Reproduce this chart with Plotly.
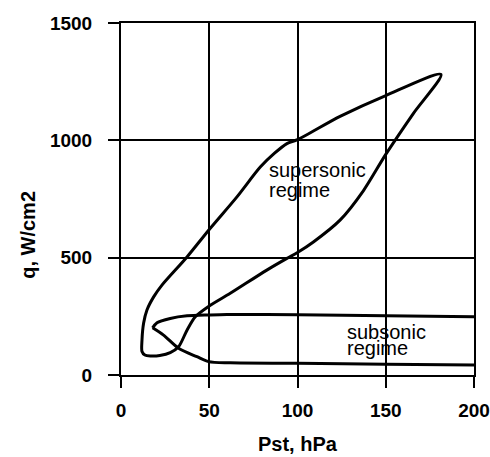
import plotly.graph_objects as go

# Supersonic regime loop: starts and ends at the high-pressure apex
super_p = [181.3, 150.0, 124.1, 100.0, 94.0, 87.0, 78.9, 65.7, 50.0, 37.4, 23.2, 18.5,
           14.7, 12.8, 11.9, 11.9, 13.5, 16.6, 22.0, 27.9, 32.6, 37.4, 42.1, 50.0,
           61.9, 82.6, 94.0, 100.0, 109.0, 124.1, 137.3, 150.0, 165.6, 181.3]
super_q = [1281, 1191, 1102, 1003, 986, 945, 886, 759, 620, 503, 383, 333,
           277, 220, 149, 100, 85, 81, 83, 95, 120, 191, 248, 294,
           348, 447, 497, 522, 567, 660, 785, 940, 1114, 1281]

# Subsonic regime: upper and lower branches meeting at the low-pressure tip
sub_up_p = [17.9, 20.4, 27.9, 37.4, 50.0, 60.0, 100.0, 150.0, 200.0]
sub_up_q = [201, 223, 241, 252, 256, 258, 257, 252, 248]
sub_lo_p = [17.9, 24.1, 32.6, 43.0, 49.6, 61.9, 100.0, 150.0, 200.0]
sub_lo_q = [201, 170, 114, 78, 57, 52, 50, 46, 43]

x_ticks = [0, 50, 100, 150, 200]
y_ticks = [0, 500, 1000, 1500]

x_title = "Pst, hPa"
y_title = "q, W/cm2"

line_style = dict(color="black", width=3, shape="spline", smoothing=0.8)

fig = go.Figure()
fig.add_trace(go.Scatter(x=super_p, y=super_q, mode="lines", line=line_style))
fig.add_trace(go.Scatter(x=sub_up_p, y=sub_up_q, mode="lines", line=line_style))
fig.add_trace(go.Scatter(x=sub_lo_p, y=sub_lo_q, mode="lines", line=line_style))

label_font = dict(family="Liberation Sans, Arial, sans-serif", size=20, color="black")
for text, x, y in [("supersonic", 82.6, 872), ("regime", 82.6, 787),
                   ("subsonic", 126.8, 184), ("regime", 126.8, 117)]:
    fig.add_annotation(x=x, y=y, text=text, showarrow=False, xanchor="left",
                       yanchor="middle", font=label_font)

title_font = dict(family="Liberation Sans, Arial, sans-serif", size=20,
                  color="black", weight="bold")
fig.add_annotation(xref="paper", yref="paper", x=0.502, y=-0.196, text=x_title,
                   showarrow=False, xanchor="center", yanchor="middle", font=title_font)
fig.add_annotation(xref="paper", yref="paper", x=-0.262, y=0.397, text=y_title,
                   showarrow=False, textangle=-90, xanchor="center", yanchor="middle",
                   font=title_font)

tick_font = dict(family="Liberation Sans, Arial, sans-serif",
                 size=19, color="black", weight="bold")
axis_common = dict(showline=True, linecolor="black", linewidth=2, mirror=True,
                   showgrid=True, gridcolor="black", gridwidth=2, zeroline=False,
                   ticks="outside", ticklen=11, tickwidth=2, tickcolor="black",
                   tickfont=tick_font, ticklabeloverflow="allow", automargin=False)

fig.update_xaxes(range=[0, 200], tickvals=x_ticks, ticklabelstandoff=6, **axis_common)
fig.update_yaxes(range=[0, 1500], tickvals=y_ticks, ticklabelstandoff=12, **axis_common)

fig.update_layout(
    width=490, height=457,
    margin=dict(l=121, r=16, t=23, b=82),
    plot_bgcolor="white", paper_bgcolor="white",
    showlegend=False,
)

fig.write_html("out.html")
